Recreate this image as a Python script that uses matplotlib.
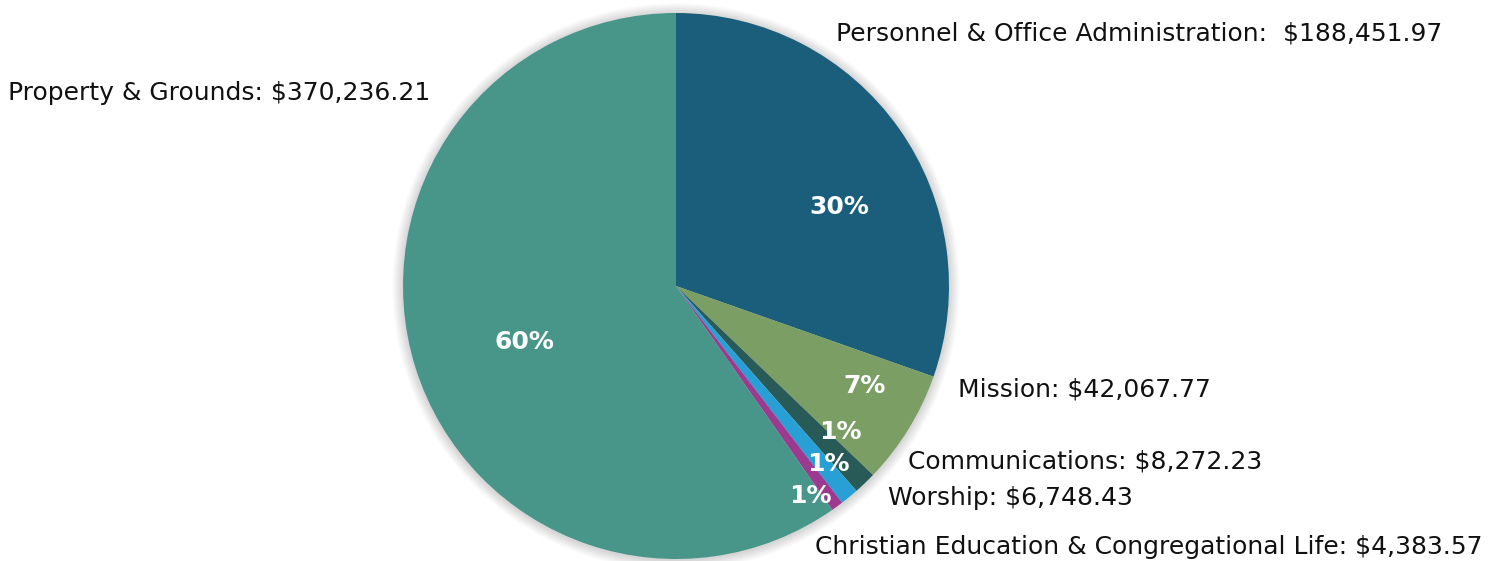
import matplotlib
matplotlib.use("Agg")
import matplotlib.pyplot as plt
from matplotlib.patches import Circle

categories = ["Personnel & Office Administration", "Mission", "Communications",
              "Worship", "Christian Education & Congregational Life", "Property & Grounds"]
values = [188451.97, 42067.77, 8272.23, 6748.43, 4383.57, 370236.21]
colors = ["#1b5e7b", "#7a9e63", "#285a58", "#28a0d6", "#9c3990", "#48968a"]

W, H = 1498, 561
fig = plt.figure(figsize=(W / 100, H / 100), dpi=100)
cx, cy, r = 676, 286, 273
ax = fig.add_axes([(cx - r) / W, (H - cy - r) / H, 2 * r / W, 2 * r / H])
ax.set_aspect("equal")
ax.axis("off")

# soft shadow / glow around the pie
for i in range(14):
    ax.add_patch(Circle((0.0, -0.003), 1.0 + 0.0028 * (i + 1), color="#000000",
                        alpha=0.012, lw=0, zorder=0, clip_on=False))

ax.pie(values, colors=colors, startangle=90, counterclock=False, radius=1.0,
       wedgeprops=dict(linewidth=0), frame=False)
ax.set_xlim(-1, 1)
ax.set_ylim(-1, 1)

total = sum(values)
pcts = [f"{round(v / total * 100):.0f}%" for v in values]

font = "DejaVu Sans"
# percentage label positions (data coords)
pct_pos = [(0.597, 0.289), (0.689, -0.366), (0.601, -0.535),
           (0.557, -0.652), (0.491, -0.769), (-0.557, -0.205)]
for (x, y), p in zip(pct_pos, pcts):
    ax.text(x, y, p, color="white", fontsize=18, fontweight="bold",
            family=font, ha="center", va="center")

def money(v):
    return f"${v:,.2f}"

label_text = [
    f"{categories[0]}:  {money(values[0])}",
    f"{categories[1]}: {money(values[1])}",
    f"{categories[2]}: {money(values[2])}",
    f"{categories[3]}: {money(values[3])}",
    f"{categories[4]}: {money(values[4])}",
    f"{categories[5]}: {money(values[5])}",
]
label_px = [(836, 34), (958, 390), (908, 461), (888, 498), (815, 547), (8, 93)]
for (px, py), t in zip(label_px, label_text):
    fig.text(px / W, 1 - py / H, t, fontsize=18, family=font, color="#111111",
             ha="left", va="center")

fig.savefig("out.png", dpi=100)
